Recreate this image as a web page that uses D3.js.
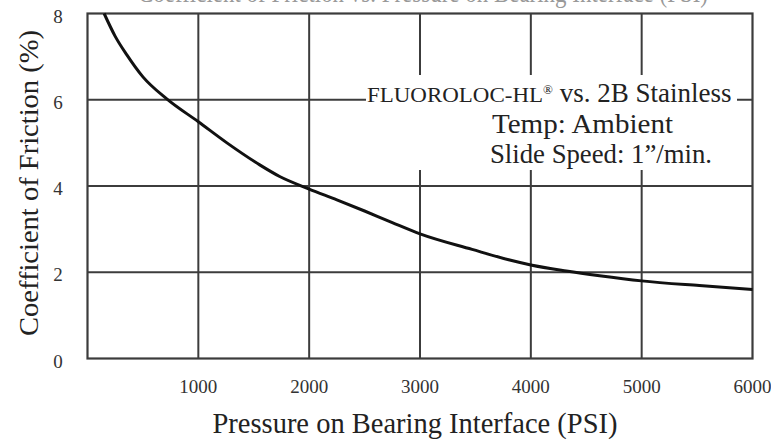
<!DOCTYPE html>
<html>
<head>
<meta charset="utf-8">
<script src="https://cdn.jsdelivr.net/npm/d3@7"></script>
<style>
  body { margin: 0; background: #fff; }
  text { font-family: "Liberation Serif", "Times New Roman", serif; }
</style>
</head>
<body>
<div id="chart"></div>
<script>

// values
var pressure = [150, 250, 355, 500, 715, 1000, 1258, 1554, 1734, 2000, 2250, 2500, 2750, 3000, 3470, 3800, 4000, 4320, 4620, 5000, 5520, 6000];
var friction = [8.0, 7.47, 7.04, 6.53, 6.02, 5.49, 5.0, 4.49, 4.22, 3.93, 3.68, 3.42, 3.15, 2.89, 2.53, 2.29, 2.17, 2.03, 1.92, 1.80, 1.69, 1.60];

var xTicks = [1000, 2000, 3000, 4000, 5000, 6000];
var yTicks = [0, 2, 4, 6, 8];

var width = 771, height = 443;
var gridColor = "#3c3c3c";

var svg = d3.select("#chart")
  .append("svg")
  .attr("width", width)
  .attr("height", height);

var x = d3.scaleLinear().domain([0, 6000]).range([87.5, 752.5]);
var y = d3.scaleLinear().domain([0, 8]).range([358.5, 13.5]);

// title cut off at the top of the picture
svg.append("text")
  .attr("x", 138)
  .attr("y", 2)
  .attr("textLength", 570)
  .attr("lengthAdjust", "spacingAndGlyphs")
  .style("font-size", "27px")
  .style("fill", "#999")
  .text("Coefficient of Friction vs. Pressure on Bearing Interface (PSI)");

// grid
var grid = svg.append("g");

grid.selectAll(".vgrid").data(xTicks.slice(0, 5))
  .enter().append("line")
  .attr("x1", d => x(d)).attr("x2", d => x(d))
  .attr("y1", y(8)).attr("y2", y(0))
  .attr("stroke", gridColor)
  .attr("stroke-width", 2);

grid.selectAll(".hgrid").data(yTicks.slice(1, 4))
  .enter().append("line")
  .attr("x1", x(0)).attr("x2", x(6000))
  .attr("y1", d => y(d)).attr("y2", d => y(d))
  .attr("stroke", gridColor)
  .attr("stroke-width", 2);

grid.append("rect")
  .attr("x", x(0)).attr("y", y(8))
  .attr("width", x(6000) - x(0))
  .attr("height", y(0) - y(8))
  .attr("fill", "none")
  .attr("stroke", gridColor)
  .attr("stroke-width", 2.2);

// tick labels
svg.selectAll(".xtick").data(xTicks)
  .enter().append("text")
  .attr("x", d => x(d))
  .attr("y", 393)
  .style("text-anchor", "middle")
  .style("font-size", "19px")
  .style("fill", "#333")
  .text(d => d);

svg.selectAll(".ytick").data(yTicks)
  .enter().append("text")
  .attr("x", 58)
  .attr("y", d => y(d) + 9)
  .style("text-anchor", "middle")
  .style("font-size", "19px")
  .style("fill", "#333")
  .text(d => d);

// curve
var pts = pressure.map((p, i) => [p, friction[i]]);

var line = d3.line()
  .x(d => x(d[0]))
  .y(d => y(d[1]))
  .curve(d3.curveMonotoneX);

svg.append("path")
  .datum(pts)
  .attr("d", line)
  .attr("fill", "none")
  .attr("stroke", "#111")
  .attr("stroke-width", 3);

// annotation box
var note = svg.append("g");

note.append("rect")
  .attr("x", 366).attr("y", 75)
  .attr("width", 371).attr("height", 95)
  .attr("fill", "#fff");

var l1 = note.append("text")
  .attr("x", 367)
  .attr("y", 102)
  .style("fill", "#222");
l1.append("tspan")
  .style("font-size", "22px")
  .attr("textLength", 176)
  .attr("lengthAdjust", "spacingAndGlyphs")
  .text("FLUOROLOC-HL");
l1.append("tspan")
  .attr("dy", -8)
  .style("font-size", "13px")
  .text("®");
l1.append("tspan")
  .attr("dy", 8)
  .style("font-size", "27px")
  .text(" vs. 2B Stainless");

note.append("text")
  .attr("x", 492)
  .attr("y", 133)
  .attr("textLength", 181)
  .attr("lengthAdjust", "spacingAndGlyphs")
  .style("font-size", "27px")
  .style("fill", "#222")
  .text("Temp: Ambient");

note.append("text")
  .attr("x", 490)
  .attr("y", 163)
  .attr("textLength", 222)
  .attr("lengthAdjust", "spacingAndGlyphs")
  .style("font-size", "27px")
  .style("fill", "#222")
  .text("Slide Speed:  1\u201D/min.");

// axis titles
svg.append("text")
  .attr("x", 415)
  .attr("y", 433)
  .attr("textLength", 405)
  .attr("lengthAdjust", "spacingAndGlyphs")
  .style("text-anchor", "middle")
  .style("font-size", "29px")
  .style("fill", "#222")
  .text("Pressure on Bearing Interface (PSI)");

svg.append("text")
  .attr("transform", "translate(38,183)rotate(-90)")
  .attr("textLength", 306)
  .attr("lengthAdjust", "spacingAndGlyphs")
  .style("text-anchor", "middle")
  .style("font-size", "28px")
  .style("fill", "#222")
  .text("Coefficient of Friction (%)");

</script>
</body>
</html>
